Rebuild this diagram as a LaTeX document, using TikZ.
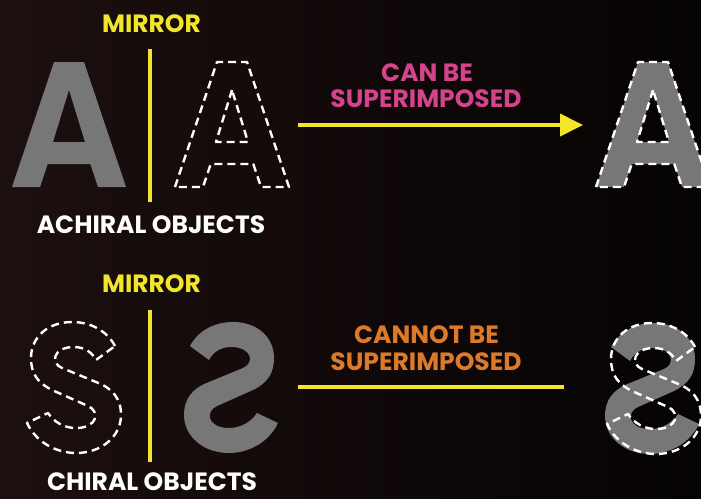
\documentclass[tikz,border=0pt]{standalone}
\usepackage{fontspec}
\setmainfont{Poppins}
\usetikzlibrary{arrows.meta}
\definecolor{bgdark}{HTML}{060303}
\definecolor{bgwarm}{HTML}{1C0F0F}
\definecolor{myyellow}{HTML}{F2E52A}
\definecolor{mypink}{HTML}{D4448C}
\definecolor{myorange}{HTML}{DD7A2A}
\definecolor{lettergray}{HTML}{777777}
\newcommand{\myApath}{(0,187) -- (42,62) -- (72,62) -- (114,187) -- (86,187) -- (78.3,164) -- (35.7,164) -- (28,187) -- cycle (57,90) -- (41,142) -- (73,142) -- cycle}
\newcommand{\mySpath}{(89,24) .. controls (81,9) and (65,0) .. (46,0) .. controls (22,0) and (5,15) .. (5,36) .. controls (5,52) and (12,61) .. (26,68) -- (62,84) .. controls (74,89) and (72,106) .. (50,106) .. controls (38,106) and (28,100) .. (22,91) -- (1,101) .. controls (10,120) and (30,131) .. (50,131) .. controls (76,131) and (95,114) .. (95,93) .. controls (95,76) and (86,66) .. (70,60) -- (36,46) .. controls (24,41) and (27,25) .. (48,25) .. controls (58,25) and (66,30) .. (70,38) -- cycle}
\begin{document}
\begin{tikzpicture}[x=1pt,y=-1pt,
  lbl/.style={anchor=base,inner sep=0pt,text depth=0pt,font=\fontsize{25}{27}\selectfont\bfseries},
  mirrorline/.style={draw=myyellow,line width=4pt},
  dashout/.style={draw=white,line width=2.4pt,dash pattern=on 8pt off 5pt,line join=round},
  grayfill/.style={fill=lettergray,even odd rule},
  yline/.style={draw=myyellow,line width=4pt}]
\useasboundingbox (0,0) rectangle (701,498);
\shade[left color=bgwarm,right color=bgdark] (0,0) rectangle (701,498);
% top row
\node[lbl,text=myyellow] (mirror1) at (151.5,32) {MIRROR};
\coordinate (m1top) at (150,49);
\coordinate (m1bot) at (150,202);
\draw[mirrorline] (m1top) -- (m1bot);
\begin{scope}[shift={(12,0)}]
  \path[grayfill] \myApath;
\end{scope}
\begin{scope}[shift={(175,0)}]
  \path[dashout] \myApath;
\end{scope}
\node[lbl,text=white] (achiral) at (151,233) {ACHIRAL OBJECTS};
\node[lbl,text=mypink] (canbe) at (427,81) {CAN BE};
\node[lbl,text=mypink] (sup1) at (426,107) {SUPERIMPOSED};
\coordinate (arrS) at (298,125);
\coordinate (arrE) at (583,125);
\draw[yline,-{Triangle[length=23pt,width=22pt]}] (arrS) -- (arrE);
\begin{scope}[shift={(596,0)}]
  \path[grayfill] \myApath;
  \path[dashout] \myApath;
\end{scope}
% bottom row
\node[lbl,text=myyellow] (mirror2) at (151.5,292) {MIRROR};
\coordinate (m2top) at (150,310);
\coordinate (m2bot) at (150,462);
\draw[mirrorline] (m2top) -- (m2bot);
\begin{scope}[shift={(26,322)}]
  \path[dashout] \mySpath;
\end{scope}
\begin{scope}[shift={(279,322)},xscale=-1]
  \path[grayfill] \mySpath;
\end{scope}
\node[lbl,text=white] (chiral) at (152,490) {CHIRAL OBJECTS};
\node[lbl,text=myorange] (cannot) at (426.5,343) {CANNOT BE};
\node[lbl,text=myorange] (sup2) at (426,370) {SUPERIMPOSED};
\coordinate (lnS) at (298,387);
\coordinate (lnE) at (564,387);
\draw[yline] (lnS) -- (lnE);
\begin{scope}[shift={(700,323)},xscale=-1]
  \path[grayfill] \mySpath;
\end{scope}
\begin{scope}[shift={(606,323)}]
  \path[dashout] \mySpath;
\end{scope}
\end{tikzpicture}
\end{document}
